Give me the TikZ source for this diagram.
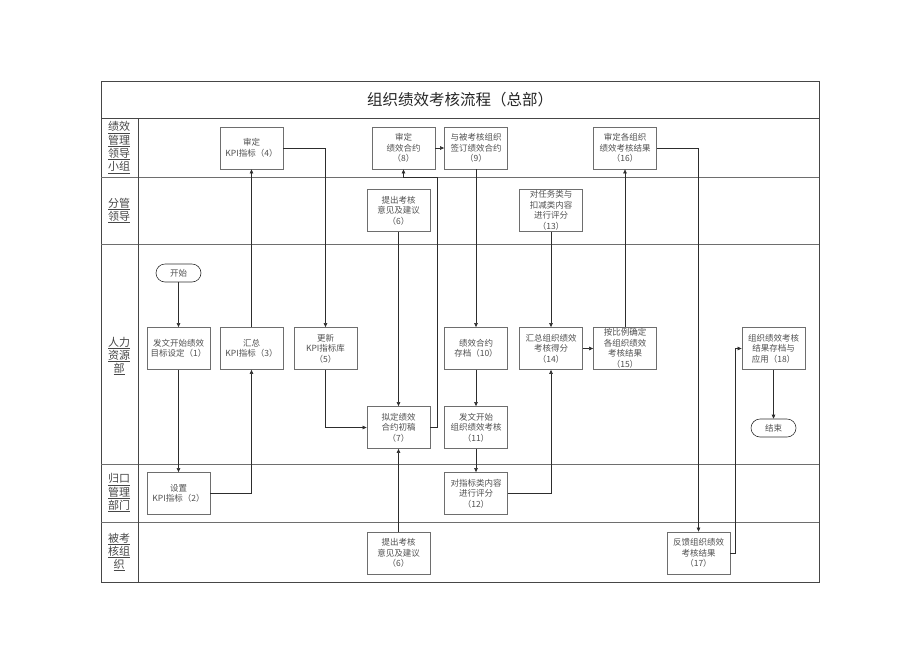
\documentclass[tikz,border=0pt]{standalone}
\usepackage{fontspec}
\setmainfont{Noto Sans CJK SC}
\usepackage{xcolor}
\usetikzlibrary{arrows.meta}
\definecolor{frame1}{RGB}{70,70,70}
\definecolor{lane1}{RGB}{110,110,110}
\definecolor{line1}{RGB}{45,45,45}
\definecolor{text1}{RGB}{80,80,80}

\begin{document}
\begin{tikzpicture}[x=1pt, y=-1pt,
  box/.style={rectangle, draw=lane1, line width=0.8pt, minimum width=63pt, minimum height=42pt, inner sep=0pt, align=center, text=text1, font=\fontsize{8.5}{10.5}\selectfont},
  term/.style={rectangle, rounded corners=9pt, draw=line1, line width=0.6pt, minimum width=45pt, minimum height=18pt, inner sep=0pt, text=text1, font=\fontsize{8.5}{10.5}\selectfont},
  lanelab/.style={align=center, text=frame1, font=\fontsize{11}{12}\selectfont},
  arr/.style={draw=line1, line width=0.6pt, -{Triangle[length=4pt,width=3.5pt]}}]
\useasboundingbox (0,0) rectangle (920,651);

% Frame
\draw[frame1, line width=0.9pt] (101,81) rectangle (819,582);
\draw[frame1, line width=0.8pt] (101,118) -- (819,118);
\draw[lane1, line width=0.7pt] (101,177) -- (819,177);
\draw[lane1, line width=0.7pt] (101,244) -- (819,244);
\draw[lane1, line width=0.7pt] (101,464) -- (819,464);
\draw[lane1, line width=0.7pt] (101,522) -- (819,522);
\draw[frame1, line width=0.8pt] (138,118) -- (138,582);
\node[font=\fontsize{15.5}{17}\selectfont, text=black!85] (title) at (460,100) {组织绩效考核流程（总部）};

% Lanes
\node[lanelab] (l1) at (119,147.5) {\underline{绩效}\\\underline{管理}\\\underline{领导}\\\underline{小组}};
\node[lanelab] (l2) at (119,210.5) {\underline{分管}\\\underline{领导}};
\node[lanelab] (l3) at (119,356) {\underline{人力}\\\underline{资源}\\\underline{部}};
\node[lanelab] (l4) at (119,493) {\underline{归口}\\\underline{管理}\\\underline{部门}};
\node[lanelab] (l5) at (119,552) {\underline{被考}\\\underline{核组}\\\underline{织}};

% Points
\node[term] (st) at (178.5,273) {开始};
\node[box] (b1) at (178.5,348.5) {发文开始绩效\\目标设定（1）};
\node[box] (b2) at (178.5,493.5) {设置\\KPI指标（2）};
\node[box] (b3) at (251.5,348.5) {汇总\\KPI指标（3）};
\node[box] (b4) at (251.5,148) {审定\\KPI指标（4）};
\node[box] (b5) at (325.5,348.5) {更新\\KPI指标库\\（5）};
\node[box] (b6u) at (398.5,210.5) {提出考核\\意见及建议\\（6）};
\node[box] (b6d) at (398.5,553) {提出考核\\意见及建议\\（6）};
\node[box] (b7) at (398.5,427.5) {拟定绩效\\合约初稿\\（7）};
\node[box] (b8) at (403.5,148) {审定\\绩效合约\\（8）};
\node[box] (b9) at (476,148) {与被考核组织\\签订绩效合约\\（9）};
\node[box] (b10) at (476,348.5) {绩效合约\\存档（10）};
\node[box] (b11) at (476,427.5) {发文开始\\组织绩效考核\\（11）};
\node[box] (b12) at (476,493.5) {对指标类内容\\进行评分\\（12）};
\node[box] (b13) at (551,210.5) {对任务类与\\扣减类内容\\进行评分\\（13）};
\node[box] (b14) at (551,348.5) {汇总组织绩效\\考核得分\\（14）};
\node[box] (b15) at (625,348.5) {按比例确定\\各组织绩效\\考核结果\\（15）};
\node[box] (b16) at (625,148) {审定各组织\\绩效考核结果\\（16）};
\node[box] (b17) at (698.5,553) {反馈组织绩效\\考核结果\\（17）};
\node[box] (b18) at (773.5,348.5) {组织绩效考核\\结果存档与\\应用（18）};
\node[term] (en) at (773.5,428) {结束};
\coordinate (c7) at (437,177);
\coordinate (c17) at (735,348.5);

%Lines
\draw[arr] (st) -- (b1);
\draw[arr] (b1) -- (b2);
\draw[arr] (b2.east) -| (b3.south);
\draw[arr] (b3) -- (b4);
\draw[arr] (b4.east) -| (b5.north);
\draw[arr] (b5.south) |- (b7.west);
\draw[arr] (b6u) -- (b7);
\draw[arr] (b6d) -- (b7);
\draw[arr] (b7.east) -| (c7) -| (b8.south);
\draw[arr] (b8) -- (b9);
\draw[arr] (b9) -- (b10);
\draw[arr] (b10) -- (b11);
\draw[arr] (b11) -- (b12);
\draw[arr] (b12.east) -| (b14.south);
\draw[arr] (b13) -- (b14);
\draw[arr] (b14) -- (b15);
\draw[arr] (b15) -- (b16);
\draw[arr] (b16.east) -| (b17.north);
\draw[arr] (b17.east) -| (c17) -- (b18.west);
\draw[arr] (b18) -- (en);
\end{tikzpicture}
\end{document}
